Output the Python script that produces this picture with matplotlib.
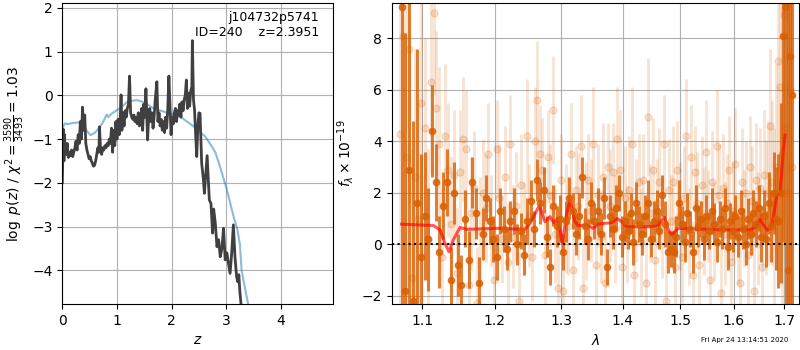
import matplotlib
matplotlib.use("Agg")
import matplotlib.pyplot as plt
from matplotlib import ticker

# p(z) from the chi2 fit
z_grid = [0.00, 0.01, 0.02, 0.03, 0.04, 0.05, 0.07, 0.09, 0.11, 0.13,
          0.15, 0.17, 0.19, 0.21, 0.23, 0.25, 0.27, 0.29, 0.31, 0.33,
          0.35, 0.37, 0.39, 0.41, 0.43, 0.45, 0.47, 0.49, 0.51, 0.53,
          0.55, 0.57, 0.59, 0.61, 0.63, 0.65, 0.67, 0.68, 0.70, 0.72,
          0.74, 0.76, 0.78, 0.80, 0.82, 0.84, 0.86, 0.88, 0.90, 0.92,
          0.94, 0.96, 0.98, 1.00, 1.02, 1.04, 1.06, 1.075, 1.09, 1.11,
          1.13, 1.15, 1.17, 1.19, 1.21, 1.23, 1.25, 1.27, 1.29, 1.31,
          1.33, 1.35, 1.37, 1.39, 1.41, 1.43, 1.45, 1.47, 1.49, 1.51,
          1.53, 1.55, 1.56, 1.58, 1.60, 1.62, 1.64, 1.66, 1.68, 1.70,
          1.73, 1.75, 1.77, 1.79, 1.81, 1.83, 1.85, 1.87, 1.89, 1.91,
          1.93, 1.95, 1.97, 1.99, 2.01, 2.03, 2.05, 2.07, 2.09, 2.11,
          2.13, 2.15, 2.17, 2.19, 2.21, 2.23, 2.25, 2.27, 2.29, 2.31,
          2.33, 2.35, 2.37, 2.38, 2.40, 2.42, 2.44, 2.46, 2.48, 2.50,
          2.52, 2.55, 2.58, 2.60, 2.62, 2.65, 2.69, 2.72, 2.75, 2.77,
          2.80, 2.83, 2.86, 2.89, 2.92, 2.95, 2.98, 3.01, 3.04, 3.07,
          3.10, 3.13, 3.16, 3.19, 3.21, 3.23, 3.25, 3.28]
log_pz = [-2.0, -1.3, -0.78, -1.5, -0.9, -1.2, -1.35, -1.1, -1.42, -1.3,
          -1.38, -1.25, -1.4, -1.3, -1.2, -1.05, -1.25, -0.9, -1.1, -0.6,
          -1.0, -0.27, -0.8, -0.45, -1.1, -1.25, -1.35, -1.45, -1.4, -1.5,
          -1.55, -1.62, -1.6, -1.5, -1.35, -1.2, -1.3, -0.72, -1.25, -1.35,
          -1.2, -1.25, -1.15, -1.2, -1.1, -1.15, -1.0, -1.1, -0.75, -1.3,
          -0.8, -1.15, -0.6, -1.0, -0.55, -0.9, -0.5, 0.01, -0.8, -0.4,
          -0.7, -0.35, -0.5, -0.3, -0.2, 0.44, -0.4, -0.5, -0.55, -0.45,
          -0.6, -0.5, -0.65, -0.4, -0.7, -0.55, -0.3, -0.8, -0.2, -0.5,
          0.15, -0.6, -1.02, -0.5, -0.3, -0.6, -0.4, -0.75, -0.5, -0.1,
          0.31, -0.6, -0.4, -0.7, -0.55, -0.8, -0.6, -0.85, -0.5, -0.75,
          -0.3, 0.44, -0.2, -0.9, -0.5, -0.65, -0.4, -0.3, -0.6, -0.35,
          -0.45, -0.2, -0.5, -0.15, -0.35, -0.1, 0.0, 0.35, -0.3, 0.05,
          -0.25, 0.1, 0.2, 1.25, -0.1, -0.34, -0.9, -1.4, -0.7, -0.4,
          -0.41, -1.55, -1.9, -2.24, -1.9, -1.38, -2.39, -2.47, -3.15, -2.6,
          -2.93, -3.46, -3.3, -3.69, -3.5, -3.04, -3.76, -3.6, -3.84, -4.07,
          -3.6, -2.96, -3.7, -4.15, -4.26, -4.1, -4.5, -4.9]

# prior curve
z_prior = [0.0, 0.02, 0.05, 0.1, 0.2, 0.3, 0.35, 0.4, 0.45, 0.52,
           0.6, 0.69, 0.75, 0.81, 0.84, 0.9, 0.96, 1.05, 1.2, 1.3,
           1.36, 1.45, 1.55, 1.67, 1.8, 1.97, 2.16, 2.37, 2.52, 2.62,
           2.7, 2.8, 2.89, 3.01, 3.13, 3.2, 3.25, 3.28, 3.4, 3.5]
log_prior = [-0.85, -0.7, -0.64, -0.66, -0.63, -0.62, -0.6, -0.7, -0.82, -0.91,
             -0.85, -0.72, -0.6, -0.44, -0.5, -0.42, -0.37, -0.3, -0.14, -0.12,
             -0.11, -0.14, -0.2, -0.3, -0.35, -0.42, -0.49, -0.68, -0.83, -0.95,
             -1.1, -1.3, -1.65, -2.15, -2.75, -3.05, -3.4, -4.0, -4.77, -5.55]

# full resolution spectrum
wave_full = [1.071, 1.075, 1.079, 1.083, 1.087, 1.091, 1.095, 1.099, 1.103, 1.107,
             1.111, 1.115, 1.119, 1.123, 1.127, 1.131, 1.135, 1.139, 1.143, 1.147,
             1.151, 1.155, 1.159, 1.163, 1.167, 1.171, 1.175, 1.179, 1.183, 1.187,
             1.191, 1.195, 1.199, 1.203, 1.207, 1.211, 1.215, 1.219, 1.223, 1.227,
             1.231, 1.235, 1.239, 1.243, 1.247, 1.251, 1.255, 1.259, 1.263, 1.267,
             1.271, 1.275, 1.279, 1.283, 1.287, 1.291, 1.295, 1.299, 1.303, 1.307,
             1.311, 1.315, 1.319, 1.323, 1.327, 1.331, 1.335, 1.339, 1.343, 1.347,
             1.351, 1.355, 1.359, 1.363, 1.367, 1.371, 1.375, 1.379, 1.383, 1.387,
             1.391, 1.395, 1.399, 1.403, 1.407, 1.411, 1.415, 1.419, 1.423, 1.427,
             1.431, 1.435, 1.439, 1.443, 1.447, 1.451, 1.455, 1.459, 1.463, 1.467,
             1.471, 1.475, 1.479, 1.483, 1.487, 1.491, 1.495, 1.499, 1.503, 1.507,
             1.511, 1.515, 1.519, 1.523, 1.527, 1.531, 1.535, 1.539, 1.543, 1.547,
             1.551, 1.555, 1.559, 1.563, 1.567, 1.571, 1.575, 1.579, 1.583, 1.587,
             1.591, 1.595, 1.599, 1.603, 1.607, 1.611, 1.615, 1.619, 1.623, 1.627,
             1.631, 1.635, 1.639, 1.643, 1.647, 1.651, 1.655, 1.659, 1.663, 1.667,
             1.671, 1.675, 1.679, 1.683, 1.687, 1.691, 1.695, 1.699, 1.703, 1.707,
             1.711, 1.715]
flux_full = [4.3, 8.1, 3.4, 7.6, -1.3, 2.6, 1.0, 5.5, 4.5, 0.2,
             6.3, 9.0, 5.3, 3.9, -0.5, 4.2, 2.9, 0.8, 2.7, -1.1,
             2.8, 4.1, 3.7, -1.6, 1.2, 2.2, -2.3, 0.5, 2.0, 1.4,
             3.5, 0.9, -1.4, 3.7, 1.8, 0.2, 2.6, -0.7, 3.9, 0.3,
             1.5, -2.2, 2.3, 0.6, 4.2, 1.1, -0.5, 4.0, 5.6, 3.5,
             2.9, -0.4, 3.4, 1.9, 5.2, 0.4, -1.7, 2.5, -1.8, 1.0,
             0.7, 3.5, -1.0, 2.1, 1.5, 3.8, -1.7, 0.9, 2.5, 1.3,
             3.9, -0.8, 1.9, 0.3, 2.6, -1.5, 3.0, 1.5, 2.8, 0.6,
             4.1, 2.9, -0.9, 1.8, 0.4, 2.1, 3.9, -1.2, 1.3, 2.4,
             0.1, 2.5, -1.5, 4.95, 1.2, 2.9, -0.6, 1.6, 2.4, 0.7,
             3.9, -2.2, 2.1, 0.9, 2.4, -0.9, 2.9, 1.1, -0.5, 1.8,
             4.2, 0.3, 3.4, -1.2, 2.8, 1.6, -0.8, 2.3, 0.9, 3.6,
             1.1, -1.4, 2.4, 0.5, 3.8, 1.9, -1.9, 2.2, 0.4, 1.6,
             2.9, -0.7, 1.3, 3.1, 0.2, -1.5, 2.4, 1.0, 2.0, -0.4,
             3.0, 1.7, -1.8, 2.5, 0.6, 2.2, -0.9, 2.7, 1.4, 2.0,
             4.6, 2.4, 1.0, 3.0, 7.1, 6.1, 3.5, 8.9, 4.5, 2.0,
             6.0, 3.0]
err_full = [9.0, 8.0, 7.0, 6.0, 5.0, 5.0, 4.5, 4.0, 3.5, 3.5,
            3.5, 3.2, 3.0, 3.0, 2.8, 2.8, 2.6, 2.6, 2.5, 2.5,
            2.4, 2.4, 2.3, 2.3, 2.2, 2.2, 2.2, 2.1, 2.1, 2.1,
            2.0, 1.8, 2.2, 1.9, 2.1, 1.7, 2.0, 2.3, 1.9, 2.0,
            2.1, 1.9, 2.0, 1.8, 2.2, 2.0, 1.7, 2.1, 2.3, 1.9,
            2.0, 2.2, 1.8, 2.0, 2.1, 1.9, 2.3, 1.8, 2.0, 2.1,
            1.9, 2.0, 2.2, 1.7, 2.1, 2.0, 1.9, 2.3, 1.8, 2.0,
            2.2, 1.9, 2.0, 1.8, 2.1, 2.0, 1.7, 2.2, 1.9, 2.1,
            2.0, 2.3, 1.8, 2.0, 1.9, 2.1, 2.2, 1.8, 2.0, 1.9,
            2.1, 1.8, 2.0, 2.3, 1.9, 2.0, 2.2, 1.7, 2.1, 2.0,
            1.9, 2.1, 2.0, 1.8, 2.2, 2.0, 1.9, 2.1, 1.8, 2.0,
            2.2, 1.9, 2.0, 2.1, 1.8, 2.0, 2.2, 1.9, 2.1, 2.0,
            1.8, 2.1, 2.0, 1.9, 2.2, 2.0, 1.8, 2.1, 2.0, 1.9,
            2.1, 2.0, 1.9, 2.2, 1.8, 2.0, 2.1, 1.9, 2.0, 2.1,
            2.0, 2.1, 2.1, 2.2, 2.2, 2.3, 2.4, 2.5, 2.6, 2.8,
            3.0, 3.2, 3.5, 4.0, 5.0, 6.0, 7.0, 8.0, 9.0, 10.0,
            10.0, 10.0]

# binned spectrum
wave_bin = [1.073, 1.078, 1.083, 1.088, 1.093, 1.098, 1.103, 1.108, 1.113, 1.118,
            1.123, 1.128, 1.133, 1.138, 1.143, 1.148, 1.153, 1.158, 1.163, 1.168,
            1.173, 1.178, 1.183, 1.188, 1.193, 1.198, 1.203, 1.208, 1.213, 1.218,
            1.223, 1.228, 1.233, 1.238, 1.243, 1.248, 1.253, 1.258, 1.263, 1.268,
            1.273, 1.278, 1.283, 1.288, 1.293, 1.298, 1.303, 1.308, 1.313, 1.318,
            1.323, 1.328, 1.333, 1.338, 1.343, 1.348, 1.353, 1.358, 1.363, 1.368,
            1.373, 1.378, 1.383, 1.388, 1.393, 1.398, 1.403, 1.408, 1.413, 1.418,
            1.423, 1.428, 1.433, 1.438, 1.443, 1.448, 1.453, 1.458, 1.463, 1.468,
            1.473, 1.478, 1.483, 1.488, 1.493, 1.498, 1.503, 1.508, 1.513, 1.518,
            1.523, 1.528, 1.533, 1.538, 1.543, 1.548, 1.553, 1.558, 1.563, 1.568,
            1.573, 1.578, 1.583, 1.588, 1.593, 1.598, 1.603, 1.608, 1.613, 1.618,
            1.623, 1.628, 1.633, 1.638, 1.643, 1.648, 1.653, 1.658, 1.663, 1.668,
            1.673, 1.678, 1.683, 1.688, 1.693, 1.698, 1.703, 1.708, 1.712, 1.716]
flux_bin = [9.2, -1.8, 2.9, -2.2, 1.6, -0.5, 1.1, 0.2, 4.4, 2.4,
            -0.3, 1.5, 2.4, -1.4, 2.0, -0.8, -1.6, 1.0, -0.6, 2.4,
            1.2, -1.5, 0.4, 1.8, 0.9, 0.2, -0.5, 1.3, 0.6, -0.2,
            0.9, 1.3, 0.0, 0.5, -0.4, 0.9, 1.7, 0.6, 2.5, 1.6,
            2.1, 0.3, -0.9, 1.5, 0.7, 1.0, -0.3, 0.9, 1.8, 1.3,
            0.4, 1.1, 2.6, 0.7, 0.2, 1.6, 0.9, 1.3, 0.4, 1.8,
            -0.9, 1.1, 0.6, 1.4, 2.0, 0.3, 0.9, 0.5, 1.2, 0.1,
            1.6, 0.8, 0.4, 1.1, 1.6, 0.2, 0.9, 1.3, 0.5, 1.9,
            0.8, -0.3, -0.2, -0.3, 0.3, 1.6, 0.8, 0.1, 1.2, 0.6,
            -0.3, 1.4, 0.7, 1.0, 0.2, 1.1, 0.5, 1.3, 0.8, 0.1,
            1.0, 0.6, 1.4, -0.1, 0.9, 0.5, 1.1, 0.3, 1.3, 0.6,
            0.0, 1.0, 0.4, 1.2, 0.8, 1.4, 0.3, 1.1, 0.2, 1.6,
            0.7, 2.0, 1.0, 0.9, 2.0, 8.1, 9.2, -1.0, 7.3, 5.8]
err_bin = [12.0, 10.0, 8.0, 7.0, 6.0, 4.0, 2.5, 2.0, 1.8, 1.5,
           1.4, 1.3, 1.3, 1.3, 1.2, 1.2, 1.2, 1.1, 1.1, 1.0,
           1.0, 1.0, 1.0, 0.9, 0.9, 0.9, 0.9, 0.9, 0.9, 0.8,
           0.8, 0.9, 0.8, 0.7, 0.8, 0.9, 0.8, 0.7, 0.8, 0.8,
           0.9, 0.8, 0.7, 0.8, 0.8, 0.9, 0.7, 0.8, 0.8, 0.7,
           0.8, 0.9, 0.8, 0.7, 0.8, 0.8, 0.7, 0.9, 0.8, 0.8,
           0.7, 0.8, 0.8, 0.9, 0.7, 0.8, 0.8, 0.7, 0.8, 0.9,
           0.8, 0.7, 0.8, 0.8, 0.9, 0.7, 0.8, 0.8, 0.7, 0.8,
           0.9, 0.8, 0.7, 0.8, 0.8, 0.9, 0.7, 0.8, 0.8, 0.7,
           0.8, 0.9, 0.8, 0.7, 0.8, 0.8, 0.7, 0.9, 0.8, 0.8,
           0.7, 0.8, 0.8, 0.9, 0.7, 0.8, 0.8, 0.8, 0.8, 0.8,
           0.8, 0.8, 0.8, 0.9, 0.9, 0.9, 1.0, 1.0, 1.1, 1.2,
           1.4, 1.6, 2.0, 2.6, 3.5, 8.0, 12.0, 15.0, 15.0, 15.0]

# best-fit model
wave_model = [1.0731, 1.1147, 1.1237, 1.1304, 1.1359, 1.1418, 1.1510, 1.1603, 1.2030, 1.2447,
              1.2521, 1.2662, 1.2749, 1.2826, 1.2888, 1.2945, 1.3016, 1.3086, 1.3138, 1.3217,
              1.3270, 1.3404, 1.3511, 1.3593, 1.3814, 1.3907, 1.3981, 1.4066, 1.4465, 1.4610,
              1.4716, 1.4787, 1.4847, 1.4965, 1.5798, 1.6314, 1.6445, 1.6511, 1.6577, 1.6657,
              1.6745, 1.6846, 1.6912, 1.6979, 1.7014]
flux_model = [0.78, 0.73, 0.56, 0.04, -0.29, 0.17, 0.65, 0.58, 0.62, 0.58,
              0.82, 1.50, 0.88, 1.07, 0.83, 1.00, 0.05, 1.20, 1.72, 0.88,
              0.72, 0.75, 0.62, 0.79, 0.84, 1.00, 0.88, 0.68, 0.68, 0.75,
              1.05, 0.55, 0.38, 0.62, 0.56, 0.56, 0.69, 0.97, 0.75, 0.55,
              0.69, 1.91, 1.98, 3.66, 4.24]

orange = "#d95f02"

fig = plt.figure(figsize=(8, 3.5), dpi=100)
ax = fig.add_axes([0.0779, 0.1314, 0.3388, 0.86])
ax2 = fig.add_axes([0.4896, 0.1314, 0.5095, 0.86])

# redshift panel
ax.plot(z_prior, log_prior, color="#1f77b4", alpha=0.5, lw=1.5)
ax.plot(z_grid, log_pz, color="0.25", lw=2)
ax.set_xlim(0, 4.96)
ax.set_ylim(-4.77, 2.11)
ax.set_xticks([0, 1, 2, 3, 4])
ax.set_yticks([-4, -3, -2, -1, 0, 1, 2])
ax.grid()
ax.set_axisbelow(True)
ax.set_xlabel(r"$z$")
ax.set_ylabel(r"$\log\ p(z)$" + " / " + r"$\chi^2=\frac{3590}{3493}=1.03$")
ax.text(0.947, 0.975, "j104732p5741\nID=240    z=2.3951",
        transform=ax.transAxes, ha="right", va="top", fontsize=9)

# spectrum panel
ax2.errorbar(wave_full, flux_full, yerr=err_full, color=orange, alpha=0.18,
             marker="o", ms=5, linestyle="none", elinewidth=2)
ax2.errorbar(wave_bin, flux_bin, yerr=err_bin, color=orange, alpha=0.8,
             marker="o", ms=4.5, linestyle="none", elinewidth=2.2)
ax2.plot(wave_model, flux_model, color="red", alpha=0.65, lw=2.2)
ax2.axhline(0, color="k", ls=":", lw=1.5)

ax2.set_xscale("log")
ax2.set_xlim(1.0603, 1.7308)
ax2.set_ylim(-2.32, 9.37)
ax2.set_xticks([1.1, 1.2, 1.3, 1.4, 1.5, 1.6, 1.7])
ax2.xaxis.set_major_formatter(ticker.FormatStrFormatter("%.1f"))
ax2.xaxis.set_minor_locator(ticker.NullLocator())
ax2.set_yticks([-2, 0, 2, 4, 6, 8])
ax2.grid()
ax2.set_axisbelow(True)
ax2.set_xlabel(r"$\lambda$")
ax2.set_ylabel(r"$f_\lambda \times 10^{-19}$")

fig.text(0.985, 0.022, "Fri Apr 24 13:14:51 2020", ha="right", fontsize=5)

fig.savefig("out.png", dpi=100)
